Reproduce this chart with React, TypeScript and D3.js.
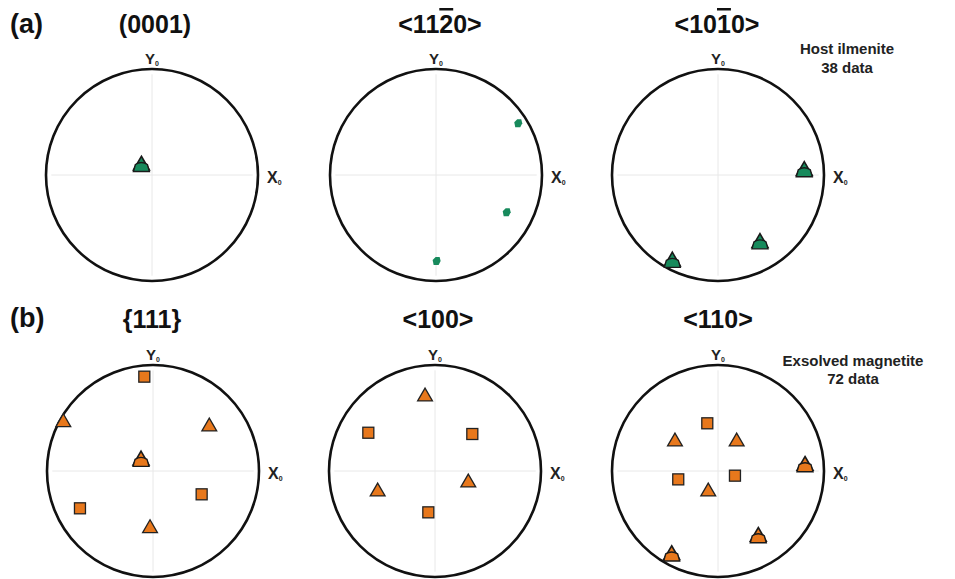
import React from "react";
import * as d3 from "d3";

// pole figures: normalized coordinates inside the primitive circle (x right, y up)
type Pt = { x: number; y: number; kind: "tri" | "sq" | "bell" | "blob" };

const ilmTitles = ["(0001)", "<1120>", "<1010>"];
const mgtTitles = ["{111}", "<100>", "<110>"];

const ilm0001: Pt[] = [{ x: -0.1, y: 0.09, kind: "bell" }];
const ilm1120: Pt[] = [
  { x: 0.776, y: 0.488, kind: "blob" },
  { x: 0.667, y: -0.352, kind: "blob" },
  { x: 0.006, y: -0.811, kind: "blob" },
];
const ilm1010: Pt[] = [
  { x: 0.814, y: 0.04, kind: "bell" },
  { x: 0.396, y: -0.64, kind: "bell" },
  { x: -0.431, y: -0.815, kind: "bell" },
];

const mgt111: Pt[] = [
  { x: -0.082, y: 0.89, kind: "sq" },
  { x: 0.459, y: -0.22, kind: "sq" },
  { x: -0.689, y: -0.352, kind: "sq" },
  { x: -0.846, y: 0.459, kind: "tri" },
  { x: 0.531, y: 0.418, kind: "tri" },
  { x: -0.113, y: 0.1, kind: "bell" },
  { x: -0.028, y: -0.541, kind: "tri" },
];
const mgt100: Pt[] = [
  { x: -0.094, y: 0.701, kind: "tri" },
  { x: 0.314, y: -0.11, kind: "tri" },
  { x: -0.541, y: -0.195, kind: "tri" },
  { x: -0.629, y: 0.361, kind: "sq" },
  { x: 0.352, y: 0.349, kind: "sq" },
  { x: -0.063, y: -0.39, kind: "sq" },
];
const mgt110: Pt[] = [
  { x: -0.101, y: 0.45, kind: "sq" },
  { x: -0.375, y: -0.079, kind: "sq" },
  { x: 0.16, y: -0.044, kind: "sq" },
  { x: -0.406, y: 0.277, kind: "tri" },
  { x: 0.176, y: 0.277, kind: "tri" },
  { x: -0.092, y: -0.195, kind: "tri" },
  { x: 0.821, y: 0.05, kind: "bell" },
  { x: 0.38, y: -0.62, kind: "bell" },
  { x: -0.437, y: -0.792, kind: "bell" },
];

const ilmData = [ilm0001, ilm1120, ilm1010];
const mgtData = [mgt111, mgt100, mgt110];

const GREEN = "#178a5c";
const ORANGE = "#e8781c";
const FONT = "'Liberation Sans', Arial, sans-serif";

const W = 955;
const H = 579;
const R = 106;
const colX = [152, 435, 718];
const rowY = [175, 471];

const Marker = ({ px, py, kind, fill }: { px: number; py: number; kind: Pt["kind"]; fill: string }) => {
  if (kind === "blob") {
    return <path d={`M${px - 4},${py - 1} L${px - 1},${py - 4} L${px + 3},${py - 4} L${px + 4},${py} L${px + 2},${py + 4} L${px - 3},${py + 4} Z`} fill={fill} />;
  }
  if (kind === "sq") {
    return <rect x={px - 5.5} y={py - 5.5} width={11} height={11} fill={fill} stroke="#222" strokeWidth={1.3} />;
  }
  const tri = d3.symbol(d3.symbolTriangle, 95)()!;
  if (kind === "tri") {
    return <path d={tri} transform={`translate(${px},${py})`} fill={fill} stroke="#222" strokeWidth={1.3} />;
  }
  // overlapping triangle + rounded body (doubled poles)
  return (
    <g transform={`translate(${px},${py})`}>
      <path d={d3.symbol(d3.symbolTriangle, 110)()!} fill={fill} stroke="#1a1a1a" strokeWidth={1.6} />
      <path d={`M-8,6 L-6,-1 Q0,-5 6,-1 L8,6 Z`} fill={fill} stroke="#1a1a1a" strokeWidth={1.4} />
    </g>
  );
};

const Stereonet = ({ cx, cy, pts, fill }: { cx: number; cy: number; pts: Pt[]; fill: string }) => {
  const x = d3.scaleLinear().domain([-1, 1]).range([cx - R, cx + R]);
  const y = d3.scaleLinear().domain([-1, 1]).range([cy + R, cy - R]);
  return (
    <g>
      <line x1={x(-0.95)} x2={x(0.95)} y1={y(0)} y2={y(0)} stroke="#e8e8e8" strokeWidth={1} />
      <line x1={x(0)} x2={x(0)} y1={y(0.95)} y2={y(-0.95)} stroke="#e8e8e8" strokeWidth={1} />
      <circle cx={cx} cy={cy} r={R} fill="none" stroke="#111" strokeWidth={2.6} />
      <text x={x(0) - 7} y={y(1) - 5} fontFamily={FONT} fontWeight="bold" fontSize={15} fill="#222">
        Y<tspan fontSize={7} dy={2}>0</tspan>
      </text>
      <text x={x(1) + 9} y={y(0) + 8} fontFamily={FONT} fontWeight="bold" fontSize={16} fill="#222">
        X<tspan fontSize={7} dy={2}>0</tspan>
      </text>
      {pts.map((p, i) => (
        <Marker key={i} px={x(p.x)} py={y(p.y)} kind={p.kind} fill={fill} />
      ))}
    </g>
  );
};

// title text with an overbar on the third digit where needed
const Title = ({ label, cx, y }: { label: string; cx: number; y: number }) => {
  const bar = label === "<1120>" || label === "<1010>";
  if (!bar) {
    return (
      <text x={cx} y={y} textAnchor="middle" fontFamily={FONT} fontWeight="bold" fontSize={25} fill="#111">
        {label}
      </text>
    );
  }
  return (
    <text x={cx} y={y} textAnchor="middle" fontFamily={FONT} fontWeight="bold" fontSize={25} fill="#111">
      {label.slice(0, 3)}
      <tspan textDecoration="overline">{label[3]}</tspan>
      {label.slice(4)}
    </text>
  );
};

export default function App() {
  return (
    <svg width={W} height={H} style={{ display: "block", position: "absolute", left: 0, top: 0, background: "#fff" }}>
      <text x={10} y={33} fontFamily={FONT} fontWeight="bold" fontSize={27} fill="#111">(a)</text>
      <text x={10} y={327} fontFamily={FONT} fontWeight="bold" fontSize={27} fill="#111">(b)</text>
      {ilmTitles.map((t, i) => (
        <Title key={t} label={t} cx={[155, 440, 717][i]} y={33} />
      ))}
      {mgtTitles.map((t, i) => (
        <Title key={t} label={t} cx={[152, 438, 718][i]} y={328} />
      ))}
      {ilmData.map((pts, i) => (
        <Stereonet key={"a" + i} cx={colX[i] + (i === 1 ? 1 : 0)} cy={rowY[0]} pts={pts} fill={GREEN} />
      ))}
      {mgtData.map((pts, i) => (
        <Stereonet key={"b" + i} cx={colX[i] + (i === 0 ? 1 : 0)} cy={rowY[1]} pts={pts} fill={ORANGE} />
      ))}
      <text x={847} y={54} textAnchor="middle" fontFamily={FONT} fontWeight="bold" fontSize={15} fill="#222">Host ilmenite</text>
      <text x={847} y={73} textAnchor="middle" fontFamily={FONT} fontWeight="bold" fontSize={15} fill="#222">38 data</text>
      <text x={853} y={366} textAnchor="middle" fontFamily={FONT} fontWeight="bold" fontSize={15} fill="#222">Exsolved magnetite</text>
      <text x={853} y={384} textAnchor="middle" fontFamily={FONT} fontWeight="bold" fontSize={15} fill="#222">72 data</text>
    </svg>
  );
}
